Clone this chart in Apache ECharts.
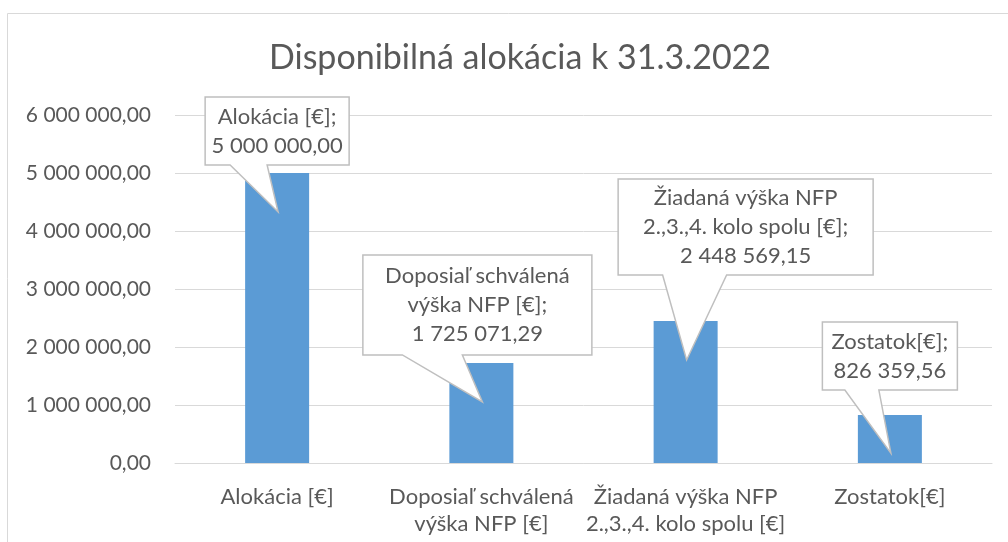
<!DOCTYPE html>
<html lang="sk">
<head>
<meta charset="utf-8" />
<title>Disponibilná alokácia k 31.3.2022</title>
<script src="https://cdn.jsdelivr.net/npm/echarts@6/dist/echarts.min.js"></script>
<style>
  html, body { margin: 0; padding: 0; background: #fff; }
  #chart { width: 1008px; height: 542px; }
</style>
</head>
<body>
<div id="chart"></div>
<script>
// údaje grafu
var categories = [
  'Alokácia [€]',
  'Doposiaľ schválená\nvýška NFP [€]',
  'Žiadaná výška NFP\n2.,3.,4. kolo spolu [€]',
  'Zostatok[€]'
];
var values = [5000000.00, 1725071.29, 2448569.15, 826359.56];
var yTicks = [0, 1000000, 2000000, 3000000, 4000000, 5000000, 6000000];

// rozloženie bublín (relatívne k vrcholu stĺpca)
var callouts = [
  { dx: 0,  bottom: -8,  w: 144, h: 68,  tail: [-47, -10], tipY: 39 },
  { dx: -4, bottom: -8,  w: 229, h: 100, tail: [-79, -19], tipY: 39 },
  { dx: 60, bottom: -46, w: 255, h: 96,  tail: [-23, 41],  tipY: 39 },
  { dx: 0,  bottom: -25, w: 135, h: 68,  tail: [-45, -11], tipY: 38 }
];

var FONT = 'Lato, "Noto Sans", sans-serif';
var TXT = '#595959';

// 1725071.29 -> "1 725 071,29"
function fmt(v) {
  var parts = v.toFixed(2).split('.');
  return parts[0].replace(/\B(?=(\d{3})+(?!\d))/g, ' ') + ',' + parts[1];
}

var chart = echarts.init(document.getElementById('chart'));

var option = {
  animation: false,
  title: {
    text: 'Disponibilná alokácia k 31.3.2022',
    left: 515,
    textAlign: 'center',
    top: 36,
    textStyle: { color: TXT, fontFamily: FONT, fontSize: 34, fontWeight: 'normal' }
  },
  graphic: [{
    type: 'rect',
    left: 5, top: 11,
    shape: { width: 1100, height: 700 },
    style: { fill: 'none', stroke: '#d9d9d9', lineWidth: 1 },
    silent: true
  }],
  grid: { left: 175, right: 16, top: 115, bottom: 79, containLabel: false },
  xAxis: {
    type: 'category',
    data: categories,
    axisTick: { show: false },
    axisLine: { lineStyle: { color: '#d9d9d9' } },
    axisLabel: { color: TXT, fontFamily: FONT, fontSize: 22, lineHeight: 27, margin: 20, interval: 0 }
  },
  yAxis: {
    type: 'value',
    min: yTicks[0],
    max: yTicks[yTicks.length - 1],
    interval: yTicks[1] - yTicks[0],
    axisLine: { show: false },
    axisTick: { show: false },
    splitLine: { lineStyle: { color: '#d9d9d9' } },
    axisLabel: { color: TXT, fontFamily: FONT, fontSize: 21, margin: 24, formatter: fmt }
  },
  series: [{
    type: 'bar',
    data: values,
    barWidth: 64,
    itemStyle: { color: '#5b9bd5' }
  }, {
    type: 'custom',
    silent: true,
    z: 10,
    data: values.map(function (v, i) { return [i, v]; }),
    renderItem: function (params, api) {
      var i = params.dataIndex;
      var p = api.coord([api.value(0), api.value(1)]);
      var c = callouts[i];
      var cx = p[0] + c.dx;
      var b = p[1] + c.bottom;
      var t = b - c.h;
      var l = cx - c.w / 2;
      var r = cx + c.w / 2;
      var pts = [
        [l, t], [r, t], [r, b],
        [p[0] + c.tail[1], b],
        [p[0] + 1, p[1] + c.tipY],
        [p[0] + c.tail[0], b],
        [l, b]
      ];
      var label = categories[i] + ';\n' + fmt(values[i]);
      return {
        type: 'group',
        children: [{
          type: 'polygon',
          shape: { points: pts },
          style: { fill: '#fff', stroke: '#bfbfbf', lineWidth: 1.5 }
        }, {
          type: 'text',
          style: {
            text: label,
            x: cx, y: (t + b) / 2,
            align: 'center', verticalAlign: 'middle',
            fill: TXT, fontFamily: FONT, fontSize: 22, lineHeight: 29
          }
        }]
      };
    }
  }]
};

chart.setOption(option);
</script>
</body>
</html>
